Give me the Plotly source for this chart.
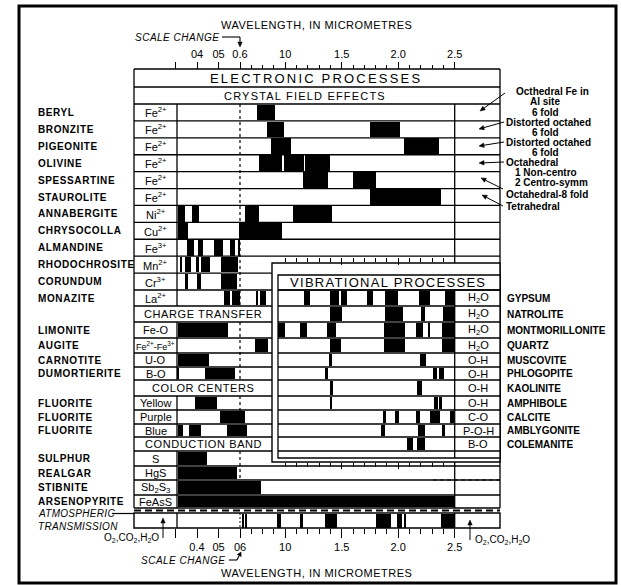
import math
import plotly.graph_objects as go

# ------------------------------------------------------------------
# Absorption bands, (start, end) in micrometres
# ------------------------------------------------------------------
crystal_field_minerals = ["BERYL", "BRONZITE", "PIGEONITE", "OLIVINE", "SPESSARTINE",
                          "STAUROLITE", "ANNABERGITE", "CHRYSOCOLLA", "ALMANDINE",
                          "RHODOCHROSITE", "CORUNDUM", "MONAZITE"]
crystal_field_ions = ["Fe<sup>2+</sup>"] * 6 + ["Ni<sup>2+</sup>", "Cu<sup>2+</sup>", "Fe<sup>3+</sup>",
                                                  "Mn<sup>2+</sup>", "Cr<sup>3+</sup>", "La<sup>2+</sup>"]
crystal_field_bands = [
    [(0.75, 0.91)],
    [(0.84, 0.99), (1.75, 2.02)],
    [(0.87, 1.05), (2.05, 2.36)],
    [(0.77, 0.975), (0.985, 1.165), (1.175, 1.40)],
    [(1.16, 1.38), (1.60, 1.80)],
    [(1.75, 2.38)],
    [(0.31, 0.345), (0.375, 0.41), (0.645, 0.77), (1.07, 1.41)],
    [(0.31, 0.36), (0.595, 0.97)],
    [(0.355, 0.385), (0.405, 0.43), (0.48, 0.52), (0.555, 0.575), (0.59, 0.60)],
    [(0.325, 0.332), (0.345, 0.37), (0.395, 0.41), (0.42, 0.46), (0.51, 0.59)],
    [(0.345, 0.36), (0.40, 0.42), (0.51, 0.585)],
    [(0.525, 0.555), (0.565, 0.60), (0.74, 0.76), (0.78, 0.83)],
]

charge_transfer_minerals = ["LIMONITE", "AUGITE", "CARNOTITE", "DUMORTIERITE"]
charge_transfer_pairs = ["Fe-O", "Fe<sup>2+</sup>-Fe<sup>3+</sup>", "U-O", "B-O"]
charge_transfer_bands = [
    [(0.31, 0.545)],
    [(0.73, 0.85)],
    [(0.31, 0.455)],
    [(0.31, 0.318), (0.435, 0.575)],
]

color_center_minerals = ["FLUORITE", "FLUORITE", "FLUORITE"]
color_center_colors = ["Yellow", "Purple", "Blue"]
color_center_bands = [
    [(0.39, 0.493)],
    [(0.505, 0.64)],
    [(0.31, 0.335), (0.365, 0.42), (0.54, 0.665)],
]

conduction_minerals = ["SULPHUR", "REALGAR", "STIBNITE", "ARSENOPYRITE"]
conduction_compounds = ["S", "HgS", "Sb<sub>2</sub>S<sub>3</sub>", "FeAsS"]
conduction_bands = [
    [(0.31, 0.445)],
    [(0.31, 0.585)],
    [(0.31, 0.79)],
    [(0.31, 2.5)],
]

vibrational_minerals = ["GYPSUM", "NATROLITE", "MONTMORILLONITE", "QUARTZ", "MUSCOVITE",
                        "PHLOGOPITE", "KAOLINITE", "AMPHIBOLE", "CALCITE", "AMBLYGONITE",
                        "COLEMANITE"]
vibrational_groups = ["H<sub>2</sub>O"] * 4 + ["O-H"] * 4 + ["C-O", "P-O-H", "B-O"]
vibrational_bands = [
    [(1.17, 1.22), (1.40, 1.48), (1.49, 1.55), (1.72, 1.78), (1.88, 2.00), (2.18, 2.28), (2.41, 2.50)],
    [(1.40, 1.50), (1.88, 2.04), (2.20, 2.24), (2.40, 2.50)],
    [(0.94, 1.00), (1.13, 1.19), (1.37, 1.45), (1.87, 2.06), (2.16, 2.22), (2.265, 2.28), (2.39, 2.50)],
    [(1.40, 1.49), (1.87, 2.06), (2.39, 2.50)],
    [(1.395, 1.41), (2.19, 2.245)],
    [(1.355, 1.375), (2.31, 2.345), (2.365, 2.405)],
    [(1.405, 1.42), (2.165, 2.21)],
    [(1.40, 1.41), (2.32, 2.35), (2.36, 2.39)],
    [(1.865, 1.89), (1.97, 2.01), (2.155, 2.19), (2.28, 2.37), (2.46, 2.49)],
    [(1.845, 1.88), (2.175, 2.24), (2.385, 2.41)],
    [(2.08, 2.13), (2.17, 2.24)],
]

atmospheric_bands = [(0.625, 0.635), (0.65, 0.66), (0.93, 0.96), (1.13, 1.16), (1.35, 1.46),
                     (1.80, 1.94), (1.99, 2.03), (2.05, 2.07), (2.38, 2.50)]

major_ticks_um = [0.3, 0.4, 0.5, 0.6, 1.0, 1.5, 2.0, 2.5]
top_tick_labels = ["", "04", "05", "0.6", "10", "1.5", "2.0", "2.5"]
bottom_tick_labels = ["", "0.4", "05", "06", "10", "1.5", "2.0", "2.5"]
minor_ticks_um = [0.7, 0.8, 0.9, 1.1, 1.2, 1.3, 1.4, 1.6, 1.7, 1.8, 1.9,
                  2.1, 2.2, 2.3, 2.4]
inset_major_um = [1.5, 2.0]
inset_minor_um = [1.0, 1.1, 1.2, 1.3, 1.4, 1.6, 1.7, 1.8, 1.9, 2.1, 2.2, 2.3, 2.4]

# ------------------------------------------------------------------
# Wavelength scale: linear above 0.6 um, stretched below (scale change)
# ------------------------------------------------------------------
W, H = 621, 585
PX_PER_UM = 113.0
SHORT_FACTOR = 215.0 / 113.0
U_LEFT = 0.6 - 240 / PX_PER_UM
U_RIGHT = U_LEFT + W / PX_PER_UM


def u(w):
    return w if w >= 0.6 else 0.6 - (0.6 - w) * SHORT_FACTOR


def ux(p):
    """page pixel column -> axis units"""
    return U_LEFT + p / PX_PER_UM


def pu(v):
    """axis units -> page pixel column"""
    return (v - U_LEFT) * PX_PER_UM


FONT = "Liberation Sans"

# table geometry (page pixels)
X_LEFT, X_LABEL, X_RIGHT = 134, 177, 500
crystal_h = (290 - 104) / 11
bounds = ([69, 87, 104] + [104 + crystal_h * k for k in range(1, 12)]
          + [306, 322, 338, 353, 367, 380, 396, 410, 424, 437, 451, 466, 480, 495, 508])

shapes = []
annotations = []


def hline(y, x0, x1, width=1.3, dash=None):
    shapes.append(dict(type="line", xref="x", yref="y", x0=ux(x0), x1=ux(x1), y0=y, y1=y,
                       line=dict(color="black", width=width, dash=dash), layer="below"))


def vline(x_u, y0, y1, width=1.3, dash=None):
    shapes.append(dict(type="line", xref="x", yref="y", x0=x_u, x1=x_u, y0=y0, y1=y1,
                       line=dict(color="black", width=width, dash=dash), layer="below"))


def spaced(s, px):
    return f'<span style="letter-spacing:{px}px">{s}</span>'


def label(x_px, y, s, size=10, anchor="center", family=FONT):
    annotations.append(dict(x=ux(x_px), y=y, xref="x", yref="y", text=s, showarrow=False,
                            xanchor=anchor, yanchor="middle",
                            font=dict(size=size, family=family, color="black")))


def arrow(tx, ty, hx, hy, width=1.0, head_len=5.0, head_half=2.2):
    """leader line from tail (tx, ty) to a filled head at (hx, hy), page pixels"""
    dx, dy = hx - tx, hy - ty
    n = math.hypot(dx, dy)
    ex, ey = dx / n, dy / n
    bx, by = hx - ex * head_len, hy - ey * head_len
    shapes.append(dict(type="line", xref="x", yref="y", x0=ux(tx), y0=ty, x1=ux(bx), y1=by,
                       line=dict(color="black", width=width)))
    p1 = (bx - ey * head_half, by + ex * head_half)
    p2 = (bx + ey * head_half, by - ex * head_half)
    path = (f"M {ux(hx)},{hy} L {ux(p1[0])},{p1[1]} L {ux(p2[0])},{p2[1]} Z")
    shapes.append(dict(type="path", xref="x", yref="y", path=path, fillcolor="black",
                       line=dict(color="black", width=0.5)))


# ------------------------------------------------------------------
# Electronic processes table
# ------------------------------------------------------------------
bar_y, bar_base, bar_len, bar_w = [], [], [], []

groups = [
    ("CRYSTAL FIELD EFFECTS", crystal_field_minerals, crystal_field_ions, crystal_field_bands),
    ("CHARGE TRANSFER", charge_transfer_minerals, charge_transfer_pairs, charge_transfer_bands),
    ("COLOR CENTERS", color_center_minerals, color_center_colors, color_center_bands),
    ("CONDUCTION BAND", conduction_minerals, conduction_compounds, conduction_bands),
]

for b in bounds:
    hline(b, X_LEFT, X_RIGHT)
vline(ux(X_LEFT), 69, 508)
vline(ux(X_RIGHT), 69, 508)
vline(u(2.5), 104, 508)

label(316, 78.5, spaced("ELECTRONIC PROCESSES", 2.2), size=13)
row = 1
for title, minerals, tags, bands in groups:
    top, bot = bounds[row], bounds[row + 1]
    if row == 1:
        label(305, (top + bot) / 2, spaced(title, 1.2), size=11)
    else:
        label(203, (top + bot) / 2, spaced(title, 0.6), size=11)
    row += 1
    g_top = bounds[row]
    for name, tag, segs in zip(minerals, tags, bands):
        top, bot = bounds[row], bounds[row + 1]
        c = (top + bot) / 2
        label(36, c, spaced(f"<b>{name}</b>", 0.6), size=10, anchor="left")
        tsize = 9 if len(tag) > 30 else 11
        label((X_LEFT + X_LABEL) / 2, c, tag, size=tsize)
        vline(ux(X_LABEL), top, bot)
        for a, e in segs:
            bar_y.append(c)
            bar_base.append(u(a))
            bar_len.append(u(e) - u(a))
            bar_w.append(bot - top - 1.2)
        row += 1
    g_bot = bounds[row]
    vline(0.6, g_top, min(g_bot, 482), width=1.2, dash="3px,3px")

# right-hand column notes on Fe2+ site symmetry
notes = [
    (552, 91, "Octhedral Fe in", "center"), (545, 101, "Al site", "center"),
    (545, 112, "6 fold", "center"), (504, 122, "Distorted octahed", "left"),
    (545, 132, "6 fold", "center"), (504, 142, "Distorted octahed", "left"),
    (545, 152, "6 fold", "center"), (504, 162, "Octahedral", "left"),
    (546, 172, "1 Non-centro", "center"), (551, 182, "2 Centro-symm", "center"),
    (504, 194, "Octahedral-8 fold", "left"), (504, 206, "Tetrahedral", "left"),
]
for x, y, s, anc in notes:
    label(x, y, f"<b>{s}</b>", size=10, anchor=anc)
for tx, ty, hx, hy in [(505, 93, 480, 111), (504, 122, 479, 129), (504, 142, 479, 146),
                       (504, 162, 479, 163), (503, 189, 481, 178), (503, 206, 482, 195)]:
    arrow(tx, ty, hx, hy)

# ------------------------------------------------------------------
# Vibrational processes inset
# ------------------------------------------------------------------
shapes.append(dict(type="rect", xref="x", yref="y", x0=ux(272), x1=ux(X_RIGHT), y0=263, y1=462,
                   fillcolor="white", line=dict(color="black", width=1.4), layer="below"))
vib_bounds = bounds[13:25]
shapes.append(dict(type="rect", xref="x", yref="y", x0=ux(278), x1=ux(X_RIGHT), y0=275, y1=458,
                   fillcolor="white", line=dict(color="black", width=1.3), layer="below"))
hline(290, 278, X_RIGHT)
for b in vib_bounds:
    hline(b, 278, X_RIGHT)
vline(u(2.5), 290, 458)
label(388, 282.5, spaced("VIBRATIONAL PROCESSES", 1.3), size=13)

vib_y, vib_base, vib_len, vib_w = [], [], [], []
for i, (name, grp, segs) in enumerate(zip(vibrational_minerals, vibrational_groups, vibrational_bands)):
    top, bot = vib_bounds[i], vib_bounds[i + 1]
    c = (top + bot) / 2
    label(478, c, grp, size=11)
    label(505, c, f"<b>{name}</b>", size=10, anchor="left")
    for a, e in segs:
        vib_y.append(c)
        vib_base.append(u(a))
        vib_len.append(u(e) - u(a))
        vib_w.append(bot - top - 1.2)

# small dashed mark at the right of the realgar row
hline(480, 433, X_RIGHT, width=1.0, dash="4px,3px")

# ------------------------------------------------------------------
# Atmospheric transmission strip
# ------------------------------------------------------------------
hline(510.5, X_LEFT, X_RIGHT, width=2.2, dash="7px,4px")
shapes.append(dict(type="rect", xref="x", yref="y", x0=ux(X_LEFT), x1=ux(X_RIGHT), y0=513, y1=528,
                   line=dict(color="black", width=1.4), layer="below"))
vline(ux(X_LABEL), 513, 528)
vline(u(2.5), 513, 528)
vline(0.6, 513, 528, width=1.0, dash="2px,2px")
atm_y = [520.5] * len(atmospheric_bands)
atm_base = [u(a) for a, e in atmospheric_bands]
atm_len = [u(e) - u(a) for a, e in atmospheric_bands]

label(36, 513, spaced("<i>ATMOSPHERIC</i>", 0.3), size=10, anchor="left")
hline(513.5, 112, X_LEFT, width=1.2)
label(36, 526, spaced("<i>TRANSMISSION</i>", 0.3), size=10, anchor="left")
label(161, 538, "O<sub>2</sub>,CO<sub>2</sub>,H<sub>2</sub>O", size=10, anchor="right")
arrow(163, 538, 163, 518)
label(473, 540, "O<sub>2</sub>,CO<sub>2</sub>,H<sub>2</sub>O", size=10, anchor="left")
arrow(470, 540, 470, 520)

# ------------------------------------------------------------------
# Axis captions
# ------------------------------------------------------------------
label(316, 25, spaced("WAVELENGTH, IN MICROMETRES", 0.5), size=11)
label(316, 573, spaced("WAVELENGTH, IN MICROMETRES", 0.5), size=11)
label(133, 37, spaced("<i>SCALE CHANGE</i>", 0.5), size=10, anchor="left")
hline(37, 222, 240, width=1.1)
arrow(240, 37, 240, 47, width=1.1)
label(139, 560, spaced("<i>SCALE CHANGE</i>", 0.5), size=10, anchor="left")
hline(560, 229, 237, width=1.1)
arrow(237, 560, 241, 552, width=1.1, head_len=4)

# outer frame
shapes.append(dict(type="rect", xref="paper", yref="paper", x0=19 / W, x1=616 / W,
                   y0=1 - 583 / H, y1=1 - 6 / H, line=dict(color="black", width=3)))

# ------------------------------------------------------------------
# Figure
# ------------------------------------------------------------------
fig = go.Figure()
common = dict(orientation="h", marker=dict(color="black", line=dict(width=0)),
              hoverinfo="skip", showlegend=False)
fig.add_trace(go.Bar(y=bar_y, x=bar_len, base=bar_base, width=bar_w, **common))
fig.add_trace(go.Bar(y=vib_y, x=vib_len, base=vib_base, width=vib_w, **common))
fig.add_trace(go.Bar(y=atm_y, x=atm_len, base=atm_base, width=[14] * len(atm_y), **common))
for ax in ["x2", "x3", "x4"]:
    fig.add_trace(go.Scatter(x=[None], y=[None], xaxis=ax, yaxis="y", showlegend=False,
                             hoverinfo="skip"))

tick_font = dict(family=FONT, size=11, color="black")
major_u = [u(w) for w in major_ticks_um]


def wave_axis(pos_px, side, ticktext, length, minor_len, show_labels=True,
              majors=major_u, minors=minor_ticks_um, overlay=True):
    d = dict(range=[U_LEFT, U_RIGHT], anchor="free", position=1 - pos_px / H, side=side,
             tickmode="array", tickvals=majors, ticktext=ticktext, ticks="outside",
             ticklen=length, tickwidth=1.2, tickcolor="black", showgrid=False,
             zeroline=False, showline=False, showticklabels=show_labels,
             tickfont=tick_font, fixedrange=True,
             minor=dict(tickvals=[u(w) for w in minors], ticks="outside", ticklen=minor_len,
                        tickwidth=1.0, tickcolor="black", showgrid=False))
    if overlay:
        d["overlaying"] = "x"
    return d


fig.update_layout(
    width=W, height=H, margin=dict(l=0, r=0, t=0, b=0),
    paper_bgcolor="white", plot_bgcolor="white", barmode="overlay", bargap=0,
    xaxis=wave_axis(528, "bottom", bottom_tick_labels, 9, 5, overlay=False),
    xaxis2=wave_axis(69, "top", top_tick_labels, 7, 4),
    xaxis3=wave_axis(256.5, "bottom", [""] * 2, 7, 4, show_labels=False,
                     majors=[u(w) for w in inset_major_um], minors=inset_minor_um),
    xaxis4=wave_axis(462, "bottom", [""] * 2, 6, 4, show_labels=False,
                     majors=[u(w) for w in inset_major_um], minors=inset_minor_um),
    yaxis=dict(range=[H, 0], visible=False, fixedrange=True, domain=[0, 1]),
    shapes=shapes, annotations=annotations,
)

fig.write_html("out.html")
